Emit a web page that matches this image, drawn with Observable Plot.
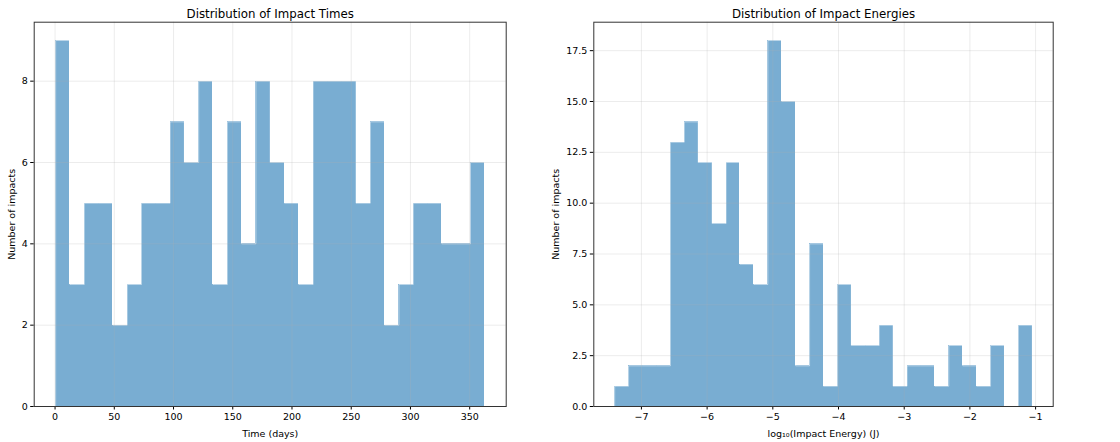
<!DOCTYPE html>
<html><head><meta charset="utf-8">
<script src="https://cdn.jsdelivr.net/npm/d3@7"></script>
<script src="https://cdn.jsdelivr.net/npm/@observablehq/plot@0.6"></script>
<style>
body{margin:0;background:#fff;}
#wrap{display:flex;width:1120px;height:442px;}
#wrap svg{font-family:"DejaVu Sans",sans-serif;display:block;}
</style></head><body><div id="wrap"></div>
<script>
// Left histogram: impact times (30 bins)
const timeCounts = [9,3,5,5,2,3,5,5,7,6,8,3,7,4,8,6,5,3,8,8,8,5,7,2,3,5,5,4,4,6];
const timeRange = [0.5, 362.7];
const timeXTicks = [0,50,100,150,200,250,300,350];
const timeYTicks = [0,2,4,6,8];

// Right histogram: log10 impact energies (30 bins)
const energyCounts = [1,2,2,2,13,14,12,9,12,7,6,18,15,2,8,1,6,3,3,4,1,2,2,1,3,2,1,3,0,4];
const energyRange = [-7.407, -1.05];
const energyXTicks = [-7,-6,-5,-4,-3,-2,-1];
const energyYTicks = [0,2.5,5,7.5,10,12.5,15,17.5];

function bins(counts, range) {
  const [lo, hi] = range;
  const w = (hi - lo) / counts.length;
  return counts.map((c, i) => ({x1: lo + i * w, x2: lo + (i + 1) * w, count: c}));
}
function outline(b) {
  const pts = [{x: b[0].x1, y: 0}];
  b.forEach(d => pts.push({x: d.x1, y: d.count}));
  pts.push({x: b[b.length - 1].x2, y: b[b.length - 1].count});
  pts.push({x: b[b.length - 1].x2, y: 0});
  return pts;
}

function hist(o) {
  const span = o.range[1] - o.range[0];
  const max = d3.max(o.counts);
  const b = bins(o.counts, o.range);
  return Plot.plot({
    width: o.width, height: 442,
    marginTop: 21.7, marginBottom: 36, marginLeft: o.marginLeft, marginRight: o.marginRight,
    style: {fontFamily: "DejaVu Sans", fontSize: "9.5px", color: "#000", background: "#fff", overflow: "visible"},
    x: {domain: [o.range[0] - 0.05 * span, o.range[1] + 0.05 * span]},
    y: {domain: [0, max * 1.05]},
    marks: [
      Plot.rectY(b, {x1: "x1", x2: "x2", y1: 0, y2: "count", fill: "#1f77b4", fillOpacity: 0.6, inset: 0, shapeRendering: "crispEdges"}),
      Plot.line(outline(b), {x: "x", y: "y", curve: "step-after", stroke: "#ffffff", strokeOpacity: 0.5, strokeWidth: 1}),
      Plot.gridX(o.xTicks, {stroke: "#b0b0b0", strokeOpacity: 0.3, strokeWidth: 0.8}),
      Plot.gridY(o.yTicks, {stroke: "#b0b0b0", strokeOpacity: 0.3, strokeWidth: 0.8}),
      Plot.axisX(o.xTicks, {tickSize: 3.5, tickPadding: 3, stroke: "#000", label: o.xLabel, labelAnchor: "center", labelArrow: "none", labelOffset: 30}),
      Plot.axisY(o.yTicks, {tickSize: 3.5, tickPadding: 3, stroke: "#000", tickFormat: o.yFormat, label: "Number of impacts", labelAnchor: "center", labelArrow: "none", labelOffset: o.yLabelOffset}),
      Plot.frame({stroke: "#333", strokeWidth: 1}),
      Plot.text([o.title], {frameAnchor: "top", dy: -4, lineAnchor: "bottom", fontSize: 11.8, fill: "#000"})
    ]
  });
}

const wrap = document.getElementById("wrap");
wrap.appendChild(hist({
  counts: timeCounts, range: timeRange, xTicks: timeXTicks, yTicks: timeYTicks,
  yFormat: d3.format("d"), title: "Distribution of Impact Times", xLabel: "Time (days)",
  width: 545, marginLeft: 33.7, marginRight: 39.3, yLabelOffset: 26
}));
wrap.appendChild(hist({
  counts: energyCounts, range: energyRange, xTicks: energyXTicks, yTicks: energyYTicks,
  yFormat: d3.format(".1f"), title: "Distribution of Impact Energies", xLabel: "log₁₀(Impact Energy) (J)",
  width: 575, marginLeft: 48.3, marginRight: 67.3, yLabelOffset: 42
}));
</script></body></html>
